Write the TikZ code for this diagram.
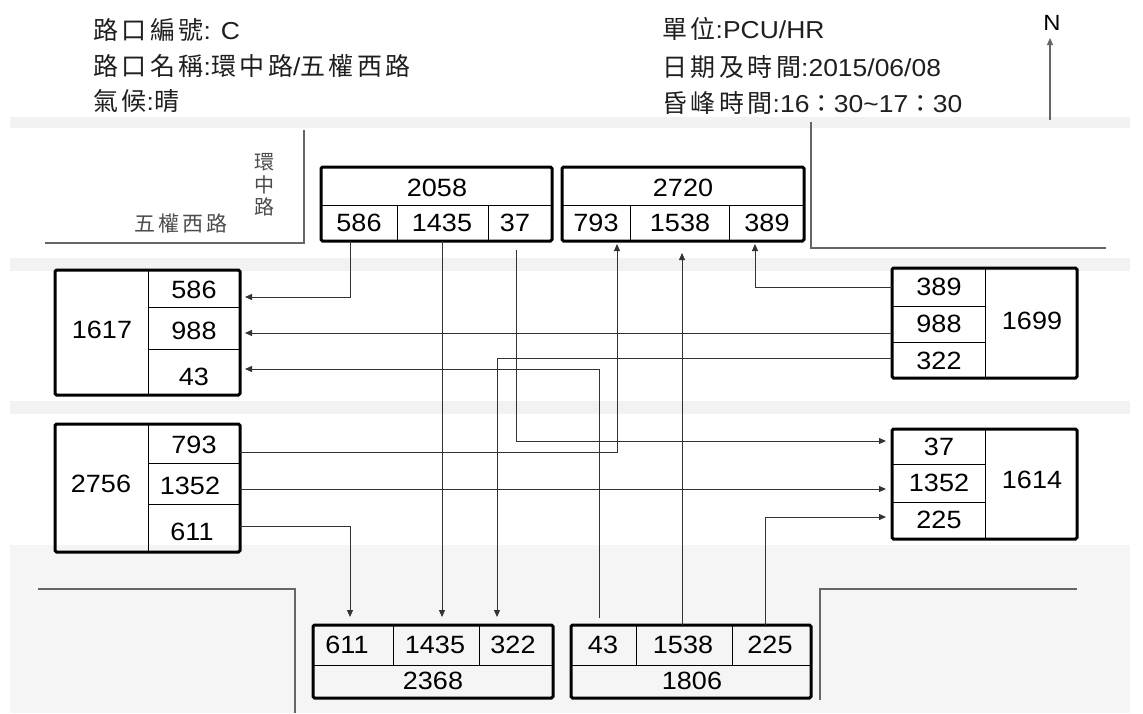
\documentclass[tikz,border=0pt]{standalone}
\usepackage{fontspec}
\setmainfont[FakeStretch=1.08]{Liberation Sans}
\newfontfamily\cjk[LetterSpace=14]{Noto Sans CJK TC}
\newfontfamily\cjkn{Noto Sans CJK TC}
\usetikzlibrary{arrows.meta}
\begin{document}
\begin{tikzpicture}[x=1pt,y=-1pt,
  outer/.style={line width=3pt, rounded corners=1.5pt},
  inner/.style={line width=1pt},
  num/.style={inner sep=0pt, font=\fontsize{25}{28}\selectfont},
  hdr/.style={anchor=base west, inner sep=0pt, font=\fontsize{24.5}{27}\selectfont, text=black!88},
  flow/.style={line width=1pt, draw=black!80, -{Triangle[length=7pt,width=6pt]}},
  road/.style={line width=1.2pt, draw=black!60},
  band/.style={fill=black!5},
  lbl/.style={inner sep=0pt, text=black!70}
]
\newcommand\hz[1]{{\cjk\fontsize{25}{28}\selectfont #1}}
\useasboundingbox (0,0) rectangle (1143,713);
\fill[white] (0,0) rectangle (1143,713);
% background bands
\fill[band] (10,117) rectangle (1130,128);
\fill[band] (10,258) rectangle (1130,271);
\fill[band] (10,401) rectangle (1130,414);
\fill[black!4] (10,545) rectangle (1130,713);

% header
\node[hdr] (h1) at (93,39) {\hz{路口編號}: C};
\node[hdr] (h2) at (93,75) {\hz{路口名稱}:\hz{環中路}/\hz{五權西路}};
\node[hdr] (h3) at (93,110) {\hz{氣候}:\hz{晴}};
\node[hdr] (h4) at (662,38) {\hz{單位}:PCU/HR};
\node[hdr] (h5) at (662,76) {\hz{日期及時間}:2015/06/08};
\node[hdr] (h6) at (662,112) {\hz{昏峰時間}:16{\cjkn ：}30\string~17{\cjkn ：}30};

% north arrow
\node[inner sep=0pt, font=\fontsize{22}{24}\selectfont] (north) at (1052,23) {N};
\coordinate (nBase) at (1050,120);
\coordinate (nTip) at (1050,38);
\draw[line width=1.2pt, draw=black!60, -{Triangle[length=7pt,width=6pt]}] (nBase) -- (nTip);

% roads
\draw[road] (45,243) -- (304,243) -- (304,130);
\draw[road] (811,122) -- (811,248) -- (1106,248);
\draw[road] (38,589) -- (295,589) -- (295,713);
\draw[road] (1077,589) -- (820,589) -- (820,700);
\node[lbl, align=center, font=\cjkn\fontsize{20}{22.5}\selectfont] (rd1) at (264,185) {環\\中\\路};
\node[lbl, font=\cjk\fontsize{21}{22}\selectfont] (rd2) at (181,224) {五權西路};

% ---- boxes ----
% north approach (2058)
\draw[inner] (321,205) -- (552,205) (397,205) -- (397,241) (488,205) -- (488,241);
\draw[outer] (321,167) rectangle (552,241);
\node[num] (nTot) at (437,188) {2058};
\node[num] (nL) at (359,223) {586};
\node[num] (nT) at (442,223) {1435};
\node[num] (nR) at (515,223) {37};
% north exit (2720)
\draw[inner] (562,205) -- (804,205) (630,205) -- (630,241) (729,205) -- (729,241);
\draw[outer] (562,167) rectangle (804,241);
\node[num] (xnTot) at (683,188) {2720};
\node[num] (xn1) at (596,223) {793};
\node[num] (xn2) at (680,223) {1538};
\node[num] (xn3) at (767,223) {389};
% west exit (1617)
\draw[inner] (148,270) -- (148,395) (148,307) -- (240,307) (148,349) -- (240,349);
\draw[outer] (55,270) rectangle (240,395);
\node[num] (xwTot) at (102,330) {1617};
\node[num] (xw1) at (194,290) {586};
\node[num] (xw2) at (194,331) {988};
\node[num] (xw3) at (194,377) {43};
% west approach (2756)
\draw[inner] (148,424) -- (148,552) (148,463) -- (240,463) (148,504) -- (240,504);
\draw[outer] (55,424) rectangle (240,552);
\node[num] (wTot) at (101,484) {2756};
\node[num] (wL) at (194,445) {793};
\node[num] (wT) at (190,486) {1352};
\node[num] (wR) at (192,532) {611};
% east approach (1699)
\draw[inner] (985,268) -- (985,378) (892,306) -- (985,306) (892,342) -- (985,342);
\draw[outer] (892,268) rectangle (1077,378);
\node[num] (eTot) at (1032,321) {1699};
\node[num] (eR) at (939,287) {389};
\node[num] (eT) at (939,324) {988};
\node[num] (eL) at (939,361) {322};
% east exit (1614)
\draw[inner] (985,429) -- (985,539) (892,464) -- (985,464) (892,502) -- (985,502);
\draw[outer] (892,429) rectangle (1077,539);
\node[num] (xeTot) at (1032,480) {1614};
\node[num] (xe1) at (939,447) {37};
\node[num] (xe2) at (939,483) {1352};
\node[num] (xe3) at (939,520) {225};
% south exit (2368)
\draw[inner] (313,665) -- (553,665) (393,625) -- (393,665) (479,625) -- (479,665);
\draw[outer] (313,625) rectangle (553,698);
\node[num] (xsTot) at (433,681) {2368};
\node[num] (xs1) at (347,645) {611};
\node[num] (xs2) at (435,645) {1435};
\node[num] (xs3) at (513,645) {322};
% south approach (1806)
\draw[inner] (571,665) -- (811,665) (636,625) -- (636,665) (732,625) -- (732,665);
\draw[outer] (571,625) rectangle (811,698);
\node[num] (sTot) at (692,681) {1806};
\node[num] (sL) at (603,645) {43};
\node[num] (sT) at (683,645) {1538};
\node[num] (sR) at (770,645) {225};

% ---- connector end points ----
\coordinate (pN586) at (350,241);  \coordinate (pW586) at (245,297);
\coordinate (pN1435) at (442,241); \coordinate (pS1435) at (442,617);
\coordinate (pN37) at (516,250);   \coordinate (pE37) at (886,441);
\coordinate (pW793) at (240,452);  \coordinate (pN793) at (617,244);
\coordinate (pW1352) at (240,489); \coordinate (pE1352) at (886,489);
\coordinate (pW611) at (240,526);  \coordinate (pS611) at (350,617);
\coordinate (pE389) at (892,287);  \coordinate (pN389) at (755,244);
\coordinate (pE988) at (892,333);  \coordinate (pW988) at (245,333);
\coordinate (pE322) at (892,358);  \coordinate (pS322) at (497,617);
\coordinate (pS43) at (599,618);   \coordinate (pW43) at (245,369);
\coordinate (pS1538) at (682,625); \coordinate (pN1538) at (682,253);
\coordinate (pS225) at (765,625);  \coordinate (pE225) at (886,517);

% ---- connectors ----
\draw[flow] (pN586) |- (pW586);
\draw[flow] (pN1435) -- (pS1435);
\draw[flow] (pN37) |- (pE37);
\draw[flow] (pW793) -| (pN793);
\draw[flow] (pW1352) -- (pE1352);
\draw[flow] (pW611) -| (pS611);
\draw[flow] (pE389) -| (pN389);
\draw[flow] (pE988) -- (pW988);
\draw[flow] (pE322) -| (pS322);
\draw[flow] (pS43) |- (pW43);
\draw[flow] (pS1538) -- (pN1538);
\draw[flow] (pS225) |- (pE225);
\end{tikzpicture}
\end{document}
